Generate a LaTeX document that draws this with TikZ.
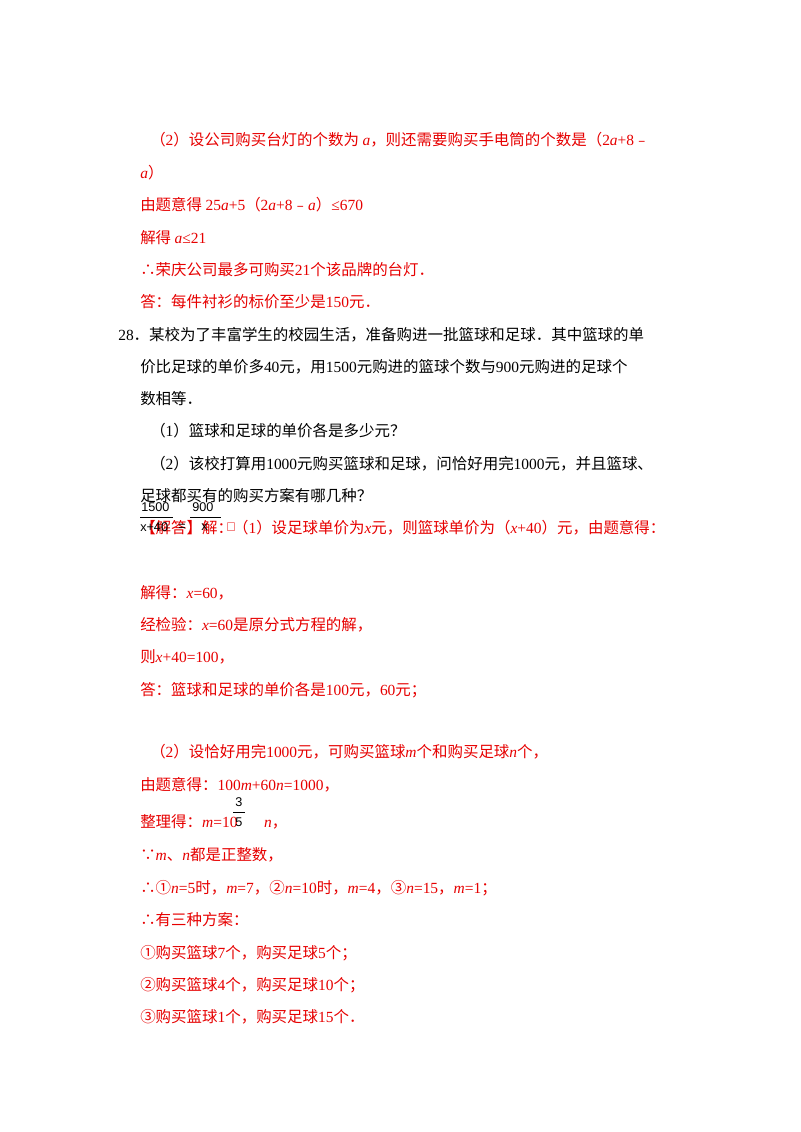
\documentclass[tikz,border=0pt]{standalone}
\usepackage{fontspec}
\setmainfont{Noto Sans CJK SC}
\newfontfamily\tmf{Liberation Serif}
\newfontfamily\sff{Liberation Sans}
\newcommand{\tm}[1]{{\tmf #1}}
\newcommand{\ti}[1]{{\tmf\itshape #1}}
\definecolor{ans}{RGB}{230,0,0}
\begin{document}
\begin{tikzpicture}[x=0.75pt,y=-0.75pt,
 ln/.style={anchor=west,inner sep=0pt,font=\fontsize{11.6pt}{14pt}\selectfont},
 r/.style={ln,text=ans},
 k/.style={ln,text=black},
 fr/.style={inner sep=0pt,font=\sff\fontsize{9.5pt}{11pt}\selectfont,text=black}]
\useasboundingbox (0,0) rectangle (800,1132);
\node[r] (l1) at (150,140) {（\tm{2}）设公司购买台灯的个数为 \ti{a}，则还需要购买手电筒的个数是（\tm{2}\ti{a}\tm{+8}﹣};
\node[r] (l2) at (140,173) {\ti{a}）};
\node[r] (l3) at (140,205) {由题意得 \tm{25}\ti{a}\tm{+5}（\tm{2}\ti{a}\tm{+8}﹣\ti{a}）\tm{≤670}};
\node[r] (l4) at (140,238) {解得 \ti{a}\tm{≤21}};
\node[r] (l5) at (140,270) {∴荣庆公司最多可购买\tm{21}个该品牌的台灯．};
\node[r] (l6) at (140,302) {答：每件衬衫的标价至少是\tm{150}元．};
\node[k] (p1) at (118,335) {\tm{28}．某校为了丰富学生的校园生活，准备购进一批篮球和足球．其中篮球的单};
\node[k] (p2) at (140,367) {价比足球的单价多\tm{40}元，用\tm{1500}元购进的篮球个数与\tm{900}元购进的足球个};
\node[k] (p3) at (140,399) {数相等．};
\node[k] (p4) at (150,431) {（\tm{1}）篮球和足球的单价各是多少元？};
\node[k] (p5) at (150,464) {（\tm{2}）该校打算用\tm{1000}元购买篮球和足球，问恰好用完\tm{1000}元，并且篮球、};
\node[k] (p6) at (140,496) {足球都买有的购买方案有哪几种？};
\node[r] (s1) at (140,528) {【解答】解：（\tm{1}）设足球单价为\ti{x}元，则篮球单价为（\ti{x}\tm{+40}）元，由题意得：};
\node[fr,anchor=west] (f1n) at (141,507) {1500};
\draw (140,517) -- (173,517);
\node[fr,anchor=west] (f1d) at (140,527) {x+40};
\node[fr,anchor=west] (eq) at (178,527) {=};
\node[fr,anchor=west] (f2n) at (192,507) {900};
\draw (190,517) -- (221,517);
\node[fr,anchor=west] (f2d) at (201,527) {x};
\node[fr,anchor=west,text=ans] (cm) at (226,527) {，};
\node[r] (s2) at (140,593) {解得：\ti{x}\tm{=60}，};
\node[r] (s3) at (140,625) {经检验：\ti{x}\tm{=60}是原分式方程的解，};
\node[r] (s4) at (140,657) {则\ti{x}\tm{+40=100}，};
\node[r] (s5) at (140,690) {答：篮球和足球的单价各是\tm{100}元，\tm{60}元；};
\node[r] (t1) at (150,752) {（\tm{2}）设恰好用完\tm{1000}元，可购买篮球\ti{m}个和购买足球\ti{n}个，};
\node[r] (t2) at (140,785) {由题意得：\tm{100}\ti{m}\tm{+60}\ti{n}\tm{=1000}，};
\node[r] (t3) at (140,822) {整理得：\ti{m}\tm{=10﹣}\hspace{11pt}\ti{n}，};
\node[fr,anchor=west] (f3n) at (235,802) {3};
\node[fr,anchor=west] (f3d) at (235,822) {5};
\draw (233,812) -- (245,812);
\node[r] (t4) at (140,855) {∵\ti{m}、\ti{n}都是正整数，};
\node[r] (t5) at (140,888) {∴①\ti{n}\tm{=5}时，\ti{m}\tm{=7}，②\ti{n}\tm{=10}时，\ti{m}\tm{=4}，③\ti{n}\tm{=15}，\ti{m}\tm{=1}；};
\node[r] (t6) at (140,920) {∴有三种方案：};
\node[r] (t7) at (140,953) {①购买篮球\tm{7}个，购买足球\tm{5}个；};
\node[r] (t8) at (140,985) {②购买篮球\tm{4}个，购买足球\tm{10}个；};
\node[r] (t9) at (140,1017) {③购买篮球\tm{1}个，购买足球\tm{15}个．};
\end{tikzpicture}
\end{document}
